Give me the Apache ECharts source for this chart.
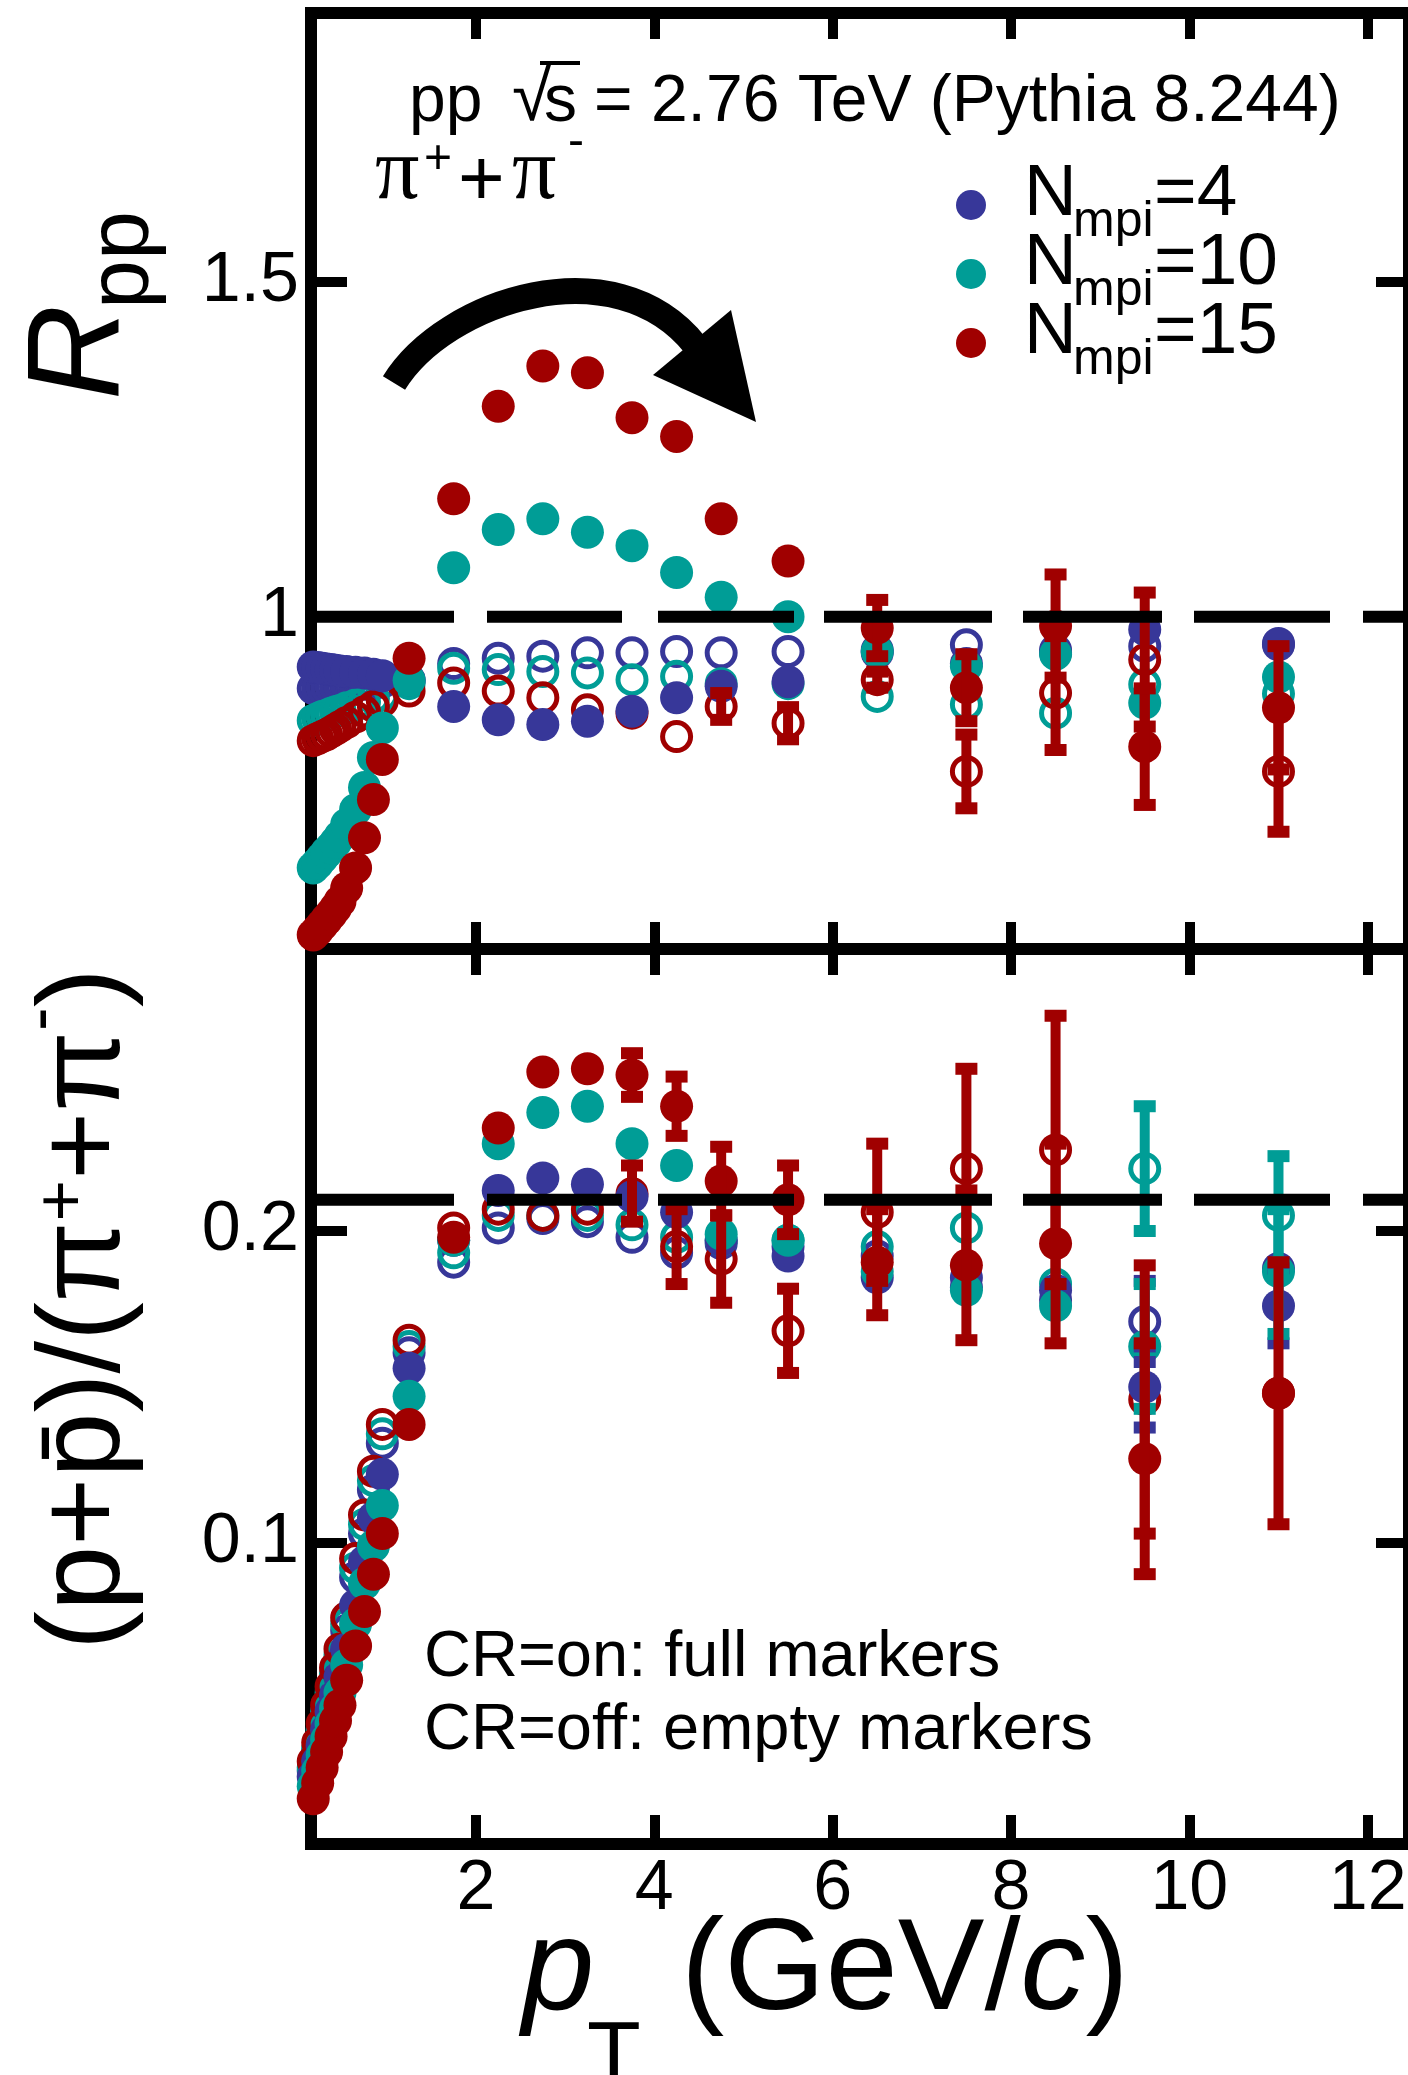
<!DOCTYPE html>
<html>
<head>
<meta charset="utf-8">
<title>R_pp and (p+pbar)/(pi+ + pi-) vs pT</title>
<script src="https://cdn.jsdelivr.net/npm/echarts@6.0.0/dist/echarts.min.js"></script>
<style>
html,body{margin:0;padding:0;background:#fff;}
#main{width:1408px;height:2075px;}
</style>
</head>
<body>
<div id="main"></div>
<script>
// pT bin centres (GeV/c)
var pT = [0.175,0.225,0.275,0.325,0.375,0.425,0.475,0.55,0.65,0.75,0.85,0.95,1.25,
          1.75,2.25,2.75,3.25,3.75,4.25,4.75,5.5,6.5,7.5,8.5,9.5,11];
var xTicks = [2,4,6,8,10,12];
var rppTicks = [1,1.5];
var ratioTicks = [0.1,0.2];
var rppRef = 1.0;
var ratioRef = 0.21;
var nmpi = [4,10,15];

// R_pp, CR=on (full markers)
var rppN4On  = [0.925,0.924,0.923,0.922,0.921,0.920,0.919,0.918,0.917,0.916,0.914,0.912,0.906,
                0.866,0.846,0.839,0.844,0.859,0.879,0.896,0.903,0.946,0.930,0.946,0.981,0.958];
var rppN10On = [0.625,0.632,0.640,0.648,0.655,0.663,0.672,0.690,0.712,0.745,0.790,0.834,0.905,
                1.073,1.130,1.146,1.126,1.106,1.066,1.029,1.000,0.948,0.926,0.944,0.871,0.910];
var rppN15On = [0.525,0.532,0.540,0.548,0.556,0.565,0.575,0.595,0.625,0.670,0.727,0.787,0.938,
                1.176,1.314,1.374,1.364,1.297,1.269,1.146,1.083,0.983,0.894,0.986,0.806,0.864];
// R_pp, CR=off (empty markers)
var rppN4Off  = [0.893,0.893,0.894,0.894,0.895,0.895,0.896,0.897,0.898,0.899,0.900,0.902,0.905,
                 0.930,0.938,0.941,0.946,0.946,0.948,0.946,0.948,0.950,0.958,0.950,0.956,0.960];
var rppN10Off = [0.845,0.848,0.851,0.853,0.856,0.858,0.860,0.864,0.868,0.873,0.878,0.883,0.900,
                 0.923,0.921,0.918,0.916,0.906,0.911,0.900,0.900,0.881,0.869,0.856,0.899,0.885];
var rppN15Off = [0.815,0.818,0.821,0.824,0.828,0.832,0.836,0.842,0.850,0.858,0.866,0.874,0.889,
                 0.901,0.889,0.879,0.861,0.856,0.821,0.866,0.841,0.906,0.769,0.886,0.936,0.769];
// R_pp errors (only the visible ones)
var rppN15OnErr  = [0,0,0,0,0,0,0,0,0,0,0,0,0, 0,0,0,0,0,0,0,0,0.042,0.050,0.077,0.087,0.092];
var rppN15OffErr = [0,0,0,0,0,0,0,0,0,0,0,0,0, 0,0,0,0,0,0,0.020,0.024,0.012,0.055,0.085,0.100,0.090];

// (p+pbar)/(pi+ + pi-), CR=on
var ratN4On  = [0.025,0.030,0.035,0.040,0.046,0.051,0.057,0.066,0.080,0.094,0.108,0.122,0.156,
                0.197,0.213,0.217,0.215,0.211,0.206,0.197,0.192,0.185,0.182,0.181,0.150,0.176];
var ratN10On = [0.022,0.027,0.032,0.037,0.042,0.047,0.052,0.061,0.074,0.087,0.099,0.112,0.147,
                0.197,0.228,0.238,0.240,0.228,0.221,0.199,0.197,0.187,0.181,0.176,0.163,0.187];
var ratN15On = [0.018,0.023,0.028,0.033,0.038,0.043,0.048,0.056,0.067,0.078,0.090,0.103,0.138,
                0.198,0.233,0.251,0.252,0.250,0.240,0.216,0.210,0.190,0.189,0.196,0.127,0.148];
// ratio, CR=off
var ratN4Off  = [0.027,0.033,0.038,0.044,0.050,0.056,0.062,0.072,0.089,0.103,0.117,0.132,0.161,
                 0.190,0.201,0.204,0.203,0.198,0.193,0.196,0.195,0.192,0.185,0.178,0.171,0.188];
var ratN10Off = [0.028,0.034,0.040,0.046,0.052,0.058,0.064,0.074,0.092,0.106,0.120,0.135,0.163,
                 0.193,0.205,0.205,0.205,0.202,0.198,0.197,0.197,0.195,0.201,0.183,0.220,0.205];
var ratN15Off = [0.030,0.036,0.042,0.048,0.054,0.060,0.066,0.076,0.095,0.109,0.123,0.138,0.165,
                 0.201,0.207,0.205,0.207,0.212,0.195,0.191,0.168,0.206,0.220,0.226,0.146,0.148];
// ratio errors
var ratN4OnErr   = [0,0,0,0,0,0,0,0,0,0,0,0,0, 0,0,0,0,0,0,0,0,0,0,0,0.013,0.012];
var ratN4OffErr  = [0,0,0,0,0,0,0,0,0,0,0,0,0, 0,0,0,0,0,0,0,0,0,0,0,0.013,0];
var ratN10OnErr  = [0,0,0,0,0,0,0,0,0,0,0,0,0, 0,0,0,0,0,0,0,0,0,0,0,0.020,0.020];
var ratN10OffErr = [0,0,0,0,0,0,0,0,0,0,0,0,0, 0,0,0,0,0,0,0,0,0,0,0,0.020,0.019];
var ratN15OnErr  = [0,0,0,0,0,0,0,0,0,0,0,0,0, 0,0,0,0,0.007,0.0095,0.011,0.011,0.017,0.024,0.032,0.037,0.042];
var ratN15OffErr = [0,0,0,0,0,0,0,0,0,0,0,0,0, 0,0,0,0,0.009,0.012,0.014,0.0135,0.022,0.032,0.043,0.043,0];

var FONT = '"Liberation Sans", Arial, sans-serif';
var SERIF = '"Liberation Serif", "Times New Roman", serif';
var colors = ['#373799','#009d96','#a00000'];
var xMin = 0.15, xMax = 12.43;
var dashPattern = [143,33,135,36,136,30,168,31,139,32,136,33,100];

function toPoints(ys){
	var d = [];
	for(var i=0;i<pT.length;i++){
		if(ys[i]!=null) d.push([pT[i], ys[i]]);
	}
	return d;
}
function toBars(ys, es){
	var d = [];
	for(var i=0;i<pT.length;i++){
		if(es && es[i]>0) d.push([pT[i], ys[i]-es[i], ys[i]+es[i]]);
	}
	return d;
}
//误差棒：竖线加两端小方块
function renderErr(params, api){
	var top = api.coord([api.value(0), api.value(2)]);
	var bot = api.coord([api.value(0), api.value(1)]);
	var c = api.visual('color');
	return {type:'group', children:[
		{type:'line', shape:{x1:top[0],y1:top[1],x2:bot[0],y2:bot[1]}, style:{stroke:c, lineWidth:10}},
		{type:'rect', shape:{x:top[0]-11,y:top[1]-6,width:22,height:12}, style:{fill:c}},
		{type:'rect', shape:{x:bot[0]-11,y:bot[1]-6,width:22,height:12}, style:{fill:c}}
	]};
}

var panels = [
	{xi:1, yi:0, ref:rppRef,
	 on:[rppN4On,rppN10On,rppN15On], off:[rppN4Off,rppN10Off,rppN15Off],
	 onErr:[null,null,rppN15OnErr], offErr:[null,null,rppN15OffErr]},
	{xi:3, yi:2, ref:ratioRef,
	 on:[ratN4On,ratN10On,ratN15On], off:[ratN4Off,ratN10Off,ratN15Off],
	 onErr:[ratN4OnErr,ratN10OnErr,ratN15OnErr], offErr:[ratN4OffErr,ratN10OffErr,ratN15OffErr]}
];

var series = [];
for(var p=0;p<panels.length;p++){
	var pn = panels[p];
	for(var k=0;k<3;k++){
		series.push({type:'scatter', name:'off'+nmpi[k], xAxisIndex:pn.xi, yAxisIndex:pn.yi,
			data:toPoints(pn.off[k]), symbol:'circle', symbolSize:28, silent:true,
			itemStyle:{color:'rgba(0,0,0,0)', borderColor:colors[k], borderWidth:5, opacity:1}});
	}
	for(var k=0;k<3;k++){
		series.push({type:'scatter', name:'on'+nmpi[k], xAxisIndex:pn.xi, yAxisIndex:pn.yi,
			data:toPoints(pn.on[k]), symbol:'circle', symbolSize:33, silent:true,
			itemStyle:{color:colors[k], opacity:1}});
	}
	for(var k=0;k<3;k++){
		var b1 = toBars(pn.off[k], pn.offErr[k]);
		var b2 = toBars(pn.on[k], pn.onErr[k]);
		if(b1.length) series.push({type:'custom', xAxisIndex:pn.xi, yAxisIndex:pn.yi, renderItem:renderErr,
			data:b1, encode:{x:0,y:[1,2]}, itemStyle:{color:colors[k]}, silent:true, z:3});
		if(b2.length) series.push({type:'custom', xAxisIndex:pn.xi, yAxisIndex:pn.yi, renderItem:renderErr,
			data:b2, encode:{x:0,y:[1,2]}, itemStyle:{color:colors[k]}, silent:true, z:3});
	}
	//参考虚线
	series.push({type:'line', xAxisIndex:pn.xi, yAxisIndex:pn.yi, data:[[xMin,pn.ref],[xMax,pn.ref]],
		symbol:'none', silent:true, z:5, lineStyle:{color:'#000', width:12, type:dashPattern}});
}

function xAx(grid, pos, tickLen, showLabel){
	return {type:'value', gridIndex:grid, position:pos, min:xMin, max:xMax,
		axisLine:{show:true, onZero:false, lineStyle:{color:'#000', width:12, cap:'square'}},
		axisTick:{show:true, inside:true, length:tickLen, customValues:xTicks, lineStyle:{color:'#000', width:10}},
		axisLabel:{show:showLabel, customValues:xTicks, fontSize:70, fontFamily:FONT, color:'#000', margin:11},
		splitLine:{show:false}};
}
function yAx(grid, pos, min, max, ticks, tickLen, lineW, showLabel){
	return {type:'value', gridIndex:grid, position:pos, min:min, max:max,
		axisLine:{show:true, onZero:false, lineStyle:{color:'#000', width:lineW, cap:'square'}},
		axisTick:{show:true, inside:true, length:tickLen, customValues:ticks, lineStyle:{color:'#000', width:10}},
		axisLabel:{show:showLabel, customValues:ticks, fontSize:70, fontFamily:FONT, color:'#000', margin:12},
		splitLine:{show:false}};
}

var gfx = [];
// 箭头
gfx.push({type:'bezierCurve', shape:{x1:394,y1:383,cpx1:445,cpy1:300,cpx2:615,cpy2:245,x2:695,y2:345},
	style:{stroke:'#000', lineWidth:26, fill:null}});
gfx.push({type:'polygon', shape:{points:[[756,422],[731,310],[653,375]]}, style:{fill:'#000'}});
// 标题 pp sqrt(s) = 2.76 TeV
function txt(x, y, s, size, extra){
	var st = {text:s, fontSize:size, fontFamily:FONT, fill:'#000', align:'left', verticalAlign:'middle'};
	for(var key in (extra||{})) st[key] = extra[key];
	return {type:'text', x:x, y:y, style:st};
}
gfx.push(txt(409, 102.5, 'pp', 66));
gfx.push(txt(512, 100, '\u221A', 72));
gfx.push(txt(544, 102.5, 's', 66));
gfx.push({type:'line', shape:{x1:540,y1:63,x2:580,y2:63}, style:{stroke:'#000', lineWidth:4}});
gfx.push(txt(594, 102.5, '= 2.76 TeV (Pythia 8.244)', 66));
// pi+ + pi-
gfx.push(txt(375, 175, '\u03C0', 88, {fontFamily:SERIF}));
gfx.push(txt(424, 160, '+', 48));
gfx.push(txt(458, 183, '+', 80));
gfx.push(txt(512, 175, '\u03C0', 88, {fontFamily:SERIF}));
gfx.push(txt(568, 143, '-', 48));
// 图例
for(var i=0;i<3;i++){
	gfx.push({type:'circle', shape:{cx:971, cy:205+69*i, r:15}, style:{fill:colors[i]}});
	gfx.push(txt(1024, 194.7+69*i, 'N', 73));
	gfx.push(txt(1073, 222.7+69*i, 'mpi', 50));
	gfx.push(txt(1154, 194.7+69*i, '='+nmpi[i], 73));
}
// CR 说明
gfx.push(txt(424, 1658.5, 'CR=on: full markers', 65));
gfx.push(txt(424, 1731.5, 'CR=off: empty markers', 65));
// x 轴标题
gfx.push(txt(522, 1973, 'p', 130, {fontStyle:'italic'}));
gfx.push(txt(587, 2057.5, 'T', 88));
gfx.push({type:'text', x:681, y:1973, style:{text:'{n|(GeV/}{i|c}{n|)}', fill:'#000', align:'left', verticalAlign:'middle',
	rich:{n:{fontSize:130, fontFamily:FONT}, i:{fontSize:130, fontFamily:FONT, fontStyle:'italic'}}}});
// y 轴标题（旋转）
gfx.push({type:'text', x:82, y:400, rotation:Math.PI/2, style:{text:'R', fontSize:132, fontStyle:'italic',
	fontFamily:FONT, fill:'#000', align:'left', verticalAlign:'middle'}});
gfx.push({type:'text', x:123.5, y:309, rotation:Math.PI/2, style:{text:'pp', fontSize:88,
	fontFamily:FONT, fill:'#000', align:'left', verticalAlign:'middle'}});
gfx.push({type:'text', x:86.5, y:1650, rotation:Math.PI/2, style:{
	text:'{n|(p+p\u0304)/(\u03C0}{s|+}{n|+\u03C0}{m|-}{n|)}', fill:'#000', align:'left', verticalAlign:'middle',
	rich:{n:{fontSize:117, lineHeight:117, fontFamily:FONT},
	      s:{fontSize:71, lineHeight:71, fontFamily:FONT, padding:[0,0,45,0]},
	      m:{fontSize:71, lineHeight:71, fontFamily:FONT, padding:[0,0,89,0]}}}});

var option = {
	animation:false,
	backgroundColor:'#fff',
	grid:[
		{left:311, top:13, width:1095, height:936, outerBoundsMode:'none'},
		{left:311, top:949, width:1095, height:895, outerBoundsMode:'none'}
	],
	xAxis:[
		xAx(0,'top',26,false),
		xAx(0,'bottom',27,false),
		xAx(1,'top',26,false),
		xAx(1,'bottom',29,true)
	],
	yAxis:[
		yAx(0,'left',0.504,1.901,rppTicks,36,12,true),
		yAx(0,'right',0.504,1.901,rppTicks,30,6,false),
		yAx(1,'left',0.0035,0.2904,ratioTicks,36,12,true),
		yAx(1,'right',0.0035,0.2904,ratioTicks,30,6,false)
	],
	graphic:{elements:gfx},
	series:series
};

var chart = echarts.init(document.getElementById('main'));
chart.setOption(option);
</script>
</body>
</html>
